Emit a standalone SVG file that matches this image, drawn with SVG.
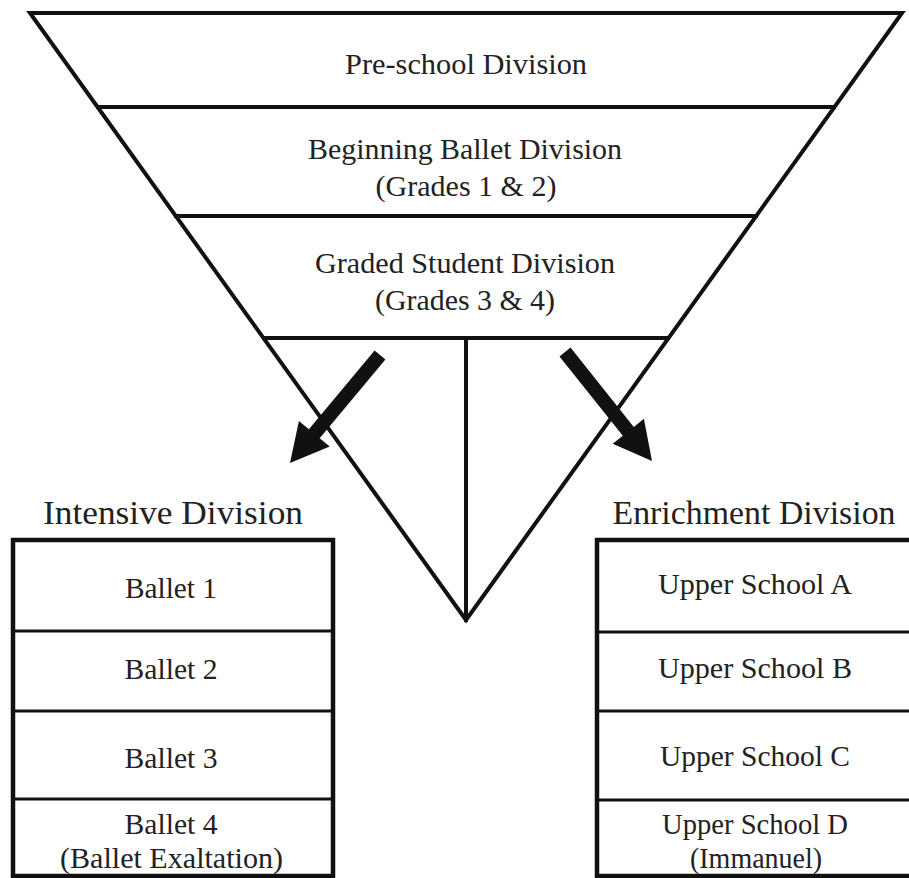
<svg xmlns="http://www.w3.org/2000/svg" width="909" height="878" viewBox="0 0 909 878">
<style>
.ln{stroke:#111;fill:none;stroke-linecap:square}
.t{font-family:"Liberation Serif","Times New Roman",serif;font-size:30px;fill:#222;text-anchor:middle}
.h{font-size:34px}
.arr{fill:#111;stroke:none}
</style>
<rect width="909" height="878" fill="#fff"/>
<g id="funnel">
<polygon class="ln" points="30,13 902,13 466,620" stroke-width="4" stroke-linejoin="miter"/>
</g>
<g id="preschool">
<line class="ln" x1="98" y1="107" x2="834" y2="107" stroke-width="4"/>
<text class="t" x="466" y="74" textLength="242" lengthAdjust="spacingAndGlyphs">Pre-school Division</text>
</g>
<g id="beginning">
<line class="ln" x1="176" y1="216" x2="756" y2="216" stroke-width="4"/>
<text class="t" x="465" y="159" textLength="314" lengthAdjust="spacingAndGlyphs">Beginning Ballet Division</text>
<text class="t" x="466" y="196" textLength="181" lengthAdjust="spacingAndGlyphs">(Grades 1 &amp; 2)</text>
</g>
<g id="graded">
<line class="ln" x1="264" y1="338" x2="668" y2="338" stroke-width="4"/>
<text class="t" x="465" y="273" textLength="300" lengthAdjust="spacingAndGlyphs">Graded Student Division</text>
<text class="t" x="465" y="310" textLength="180" lengthAdjust="spacingAndGlyphs">(Grades 3 &amp; 4)</text>
</g>
<g id="connectors">
<line class="ln" x1="466" y1="338" x2="466" y2="620" stroke-width="4"/>
<polygon class="arr" points="374.6,350.5 385.4,359.5 319.7,438.3 329.7,446.6 290,463 298.9,421 308.9,429.3"/>
<polygon class="arr" points="559.5,356.4 570.5,347.6 633.8,426.9 643.9,418.8 652,461 612.7,443.8 622.8,435.7"/>
</g>
<g id="intensive">
<text class="t h" x="173" y="524" textLength="260" lengthAdjust="spacingAndGlyphs">Intensive Division</text>
<rect class="ln" x="13" y="540" width="320" height="336" stroke-width="4.5"/>
<line class="ln" x1="13" y1="631" x2="333" y2="631" stroke-width="3"/>
<line class="ln" x1="13" y1="711" x2="333" y2="711" stroke-width="3"/>
<line class="ln" x1="13" y1="799" x2="333" y2="799" stroke-width="3"/>
<text class="t" x="171" y="598" textLength="92" lengthAdjust="spacingAndGlyphs">Ballet 1</text>
<text class="t" x="171" y="679" textLength="93" lengthAdjust="spacingAndGlyphs">Ballet 2</text>
<text class="t" x="171" y="768" textLength="93" lengthAdjust="spacingAndGlyphs">Ballet 3</text>
<text class="t" x="171" y="834" textLength="93" lengthAdjust="spacingAndGlyphs">Ballet 4</text>
<text class="t" x="171.5" y="868" textLength="223" lengthAdjust="spacingAndGlyphs">(Ballet Exaltation)</text>
</g>
<g id="enrichment">
<text class="t h" x="754" y="524" textLength="283" lengthAdjust="spacingAndGlyphs">Enrichment Division</text>
<rect class="ln" x="597" y="540" width="330" height="336" stroke-width="4.5"/>
<line class="ln" x1="597" y1="632" x2="927" y2="632" stroke-width="3"/>
<line class="ln" x1="597" y1="711" x2="927" y2="711" stroke-width="3"/>
<line class="ln" x1="597" y1="800" x2="927" y2="800" stroke-width="3"/>
<text class="t" x="755" y="594" textLength="194" lengthAdjust="spacingAndGlyphs">Upper School A</text>
<text class="t" x="755" y="678" textLength="194" lengthAdjust="spacingAndGlyphs">Upper School B</text>
<text class="t" x="755" y="766" textLength="190" lengthAdjust="spacingAndGlyphs">Upper School C</text>
<text class="t" x="755" y="834" textLength="186" lengthAdjust="spacingAndGlyphs">Upper School D</text>
<text class="t" x="756" y="868" textLength="132" lengthAdjust="spacingAndGlyphs">(Immanuel)</text>
</g>
</svg>
